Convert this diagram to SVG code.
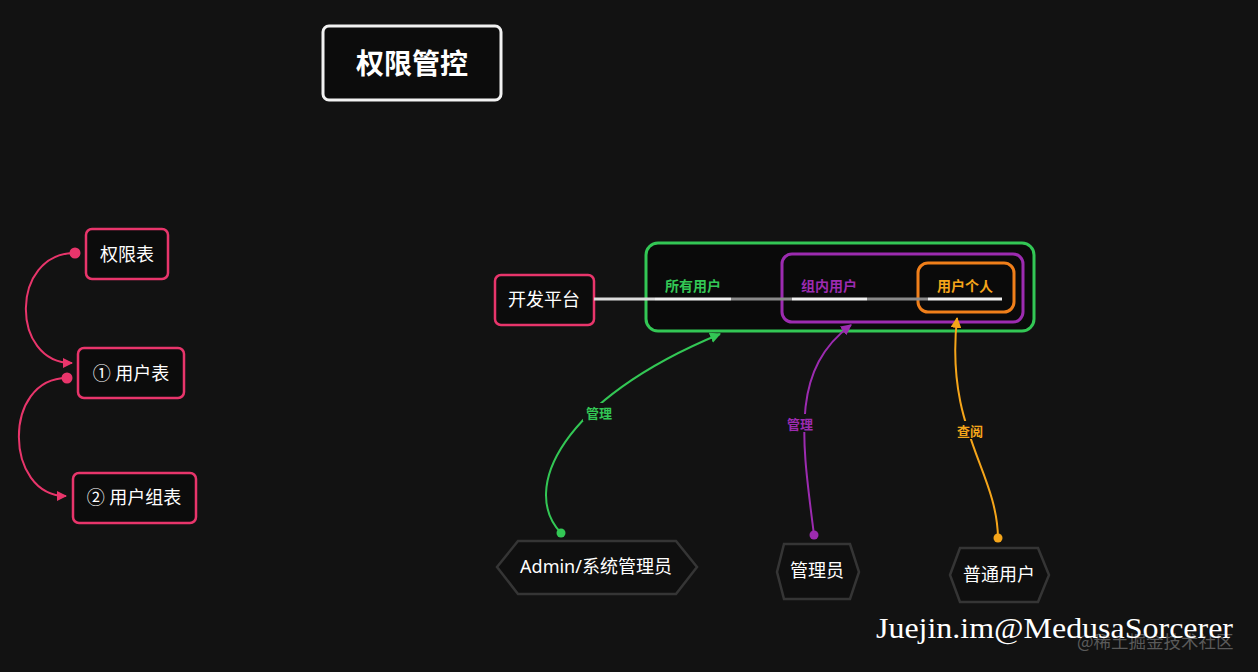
<svg xmlns="http://www.w3.org/2000/svg" width="1258" height="672" viewBox="0 0 1258 672">
<defs>
<style>
.t{font-family:"Noto Sans","Noto Sans CJK SC",sans-serif;fill:#fff;text-anchor:middle;dominant-baseline:central}
.pk{fill:#0c0c0c;stroke:#e8356b;stroke-width:2.5}
.hex{fill:#0f0f0f;stroke:#353535;stroke-width:2.5}
.lbl{font-family:"Noto Sans CJK SC",sans-serif;font-weight:bold;text-anchor:middle;dominant-baseline:central}
.c{fill:none;stroke-width:2}
</style>
<marker id="ap" viewBox="0 0 10 10" refX="9" refY="5" markerWidth="5" markerHeight="5" orient="auto"><path d="M0,0L10,5L0,10z" fill="#e8356b"/></marker>
<marker id="ag" viewBox="0 0 10 10" refX="9" refY="5" markerWidth="5.5" markerHeight="5.5" orient="auto"><path d="M0,0L10,5L0,10z" fill="#33c755"/></marker>
<marker id="av" viewBox="0 0 10 10" refX="9" refY="5" markerWidth="5.5" markerHeight="5.5" orient="auto"><path d="M0,0L10,5L0,10z" fill="#9c2bb0"/></marker>
<marker id="ao" viewBox="0 0 10 10" refX="9" refY="5" markerWidth="5.5" markerHeight="5.5" orient="auto"><path d="M0,0L10,5L0,10z" fill="#f5a51a"/></marker>
</defs>
<rect width="1258" height="672" fill="#121212"/>

<g id="title">
<rect x="323" y="26" width="178" height="74" rx="6" fill="#0c0c0c" stroke="#f2f2f2" stroke-width="3"/>
<text class="t" x="412" y="63" font-size="28" font-weight="bold">权限管控</text>
</g>

<g id="n-quanxianbiao">
<rect class="pk" x="86" y="229" width="82" height="50" rx="6"/>
<text class="t" x="127" y="254" font-size="18">权限表</text>
</g>
<g id="n-yonghubiao">
<rect class="pk" x="78" y="348" width="106" height="50" rx="6"/>
<text class="t" x="131" y="373" font-size="18">① 用户表</text>
</g>
<g id="n-yonghuzubiao">
<rect class="pk" x="73" y="473" width="123" height="50" rx="6"/>
<text class="t" x="134" y="497" font-size="18">② 用户组表</text>
</g>

<g id="n-platform">
<rect class="pk" x="495" y="275" width="99" height="50" rx="6"/>
<text class="t" x="544" y="299" font-size="18">开发平台</text>
</g>

<g id="n-all">
<rect x="646" y="243" width="388" height="88" rx="12" fill="#0a0a0a" stroke="#33c755" stroke-width="3"/>
<text class="lbl" x="693" y="285" font-size="14" fill="#33c755">所有用户</text>
</g>
<g id="n-group">
<rect x="782" y="254" width="241" height="68" rx="10" fill="#0a0a0a" stroke="#9c2bb0" stroke-width="3"/>
<text class="lbl" x="829" y="285" font-size="14" fill="#9c2bb0">组内用户</text>
</g>
<g id="n-self">
<rect x="918" y="263" width="96" height="49" rx="10" fill="#0a0a0a" stroke="#f07f1a" stroke-width="3"/>
<text class="lbl" x="965" y="285" font-size="14" fill="#f5a51a">用户个人</text>
</g>

<g id="scope-line" stroke-width="3">
<line x1="594" y1="299" x2="655" y2="299" stroke="#dcdcdc"/>
<line x1="655" y1="299" x2="731" y2="299" stroke="#f0f0f0"/>
<line x1="731" y1="299" x2="792" y2="299" stroke="#8a8a8a"/>
<line x1="792" y1="299" x2="867" y2="299" stroke="#f0f0f0"/>
<line x1="867" y1="299" x2="928" y2="299" stroke="#8a8a8a"/>
<line x1="928" y1="299" x2="1002" y2="299" stroke="#f0f0f0"/>
</g>

<g id="n-admin">
<polygon class="hex" points="497,567 518,541 676,541 697,567 676,594 518,594"/>
<text class="t" x="596" y="566" font-size="18">Admin/系统管理员</text>
</g>
<g id="n-manager">
<polygon class="hex" points="777,572 784,544 850,544 859,572 850,599 784,599"/>
<text class="t" x="817" y="570" font-size="18">管理员</text>
</g>
<g id="n-user">
<polygon class="hex" points="950,575 960,548 1038,548 1049,575 1038,602 960,602"/>
<text class="t" x="999" y="574" font-size="18">普通用户</text>
</g>

<g id="connectors">
<path class="c" d="M75,253 C10,253 10,363 72,363" stroke="#e8356b" stroke-width="2.5" marker-end="url(#ap)"/>
<circle cx="75" cy="253" r="5.5" fill="#e8356b"/>
<path class="c" d="M67,378 C2,378 4,496 66,496" stroke="#e8356b" stroke-width="2.5" marker-end="url(#ap)"/>
<circle cx="67" cy="378" r="5.5" fill="#e8356b"/>

<path class="c" d="M561,533 C520,490 560,400 720,334" stroke="#33c755" marker-end="url(#ag)"/>
<circle cx="561" cy="533" r="4.5" fill="#33c755"/>
<path class="c" d="M814,535 C802,440 790,370 851,325" stroke="#9c2bb0" marker-end="url(#av)"/>
<circle cx="814" cy="535" r="4.5" fill="#9c2bb0"/>
<path class="c" d="M998,538 C997,470 945,430 957,318" stroke="#f5a51a" marker-end="url(#ao)"/>
<circle cx="998" cy="538" r="4.5" fill="#f5a51a"/>

<rect x="583" y="403" width="32" height="18" fill="#121212"/>
<text class="lbl" x="599" y="412" font-size="13" fill="#33c755">管理</text>
<rect x="784" y="414" width="32" height="18" fill="#121212"/>
<text class="lbl" x="800" y="423" font-size="13" fill="#9c2bb0">管理</text>
<rect x="954" y="421" width="32" height="18" fill="#121212"/>
<text class="lbl" x="970" y="430" font-size="13" fill="#f5a51a">查阅</text>
</g>

<g id="watermark">
<text x="1077" y="648" font-family="Noto Sans CJK SC,sans-serif" font-size="17.5" fill="#5a5a5a">@稀土掘金技术社区</text>
<text x="876" y="638" font-family="Liberation Serif,serif" font-size="29" fill="#ffffff" textLength="357" lengthAdjust="spacingAndGlyphs">Juejin.im@MedusaSorcerer</text>
</g>
</svg>
